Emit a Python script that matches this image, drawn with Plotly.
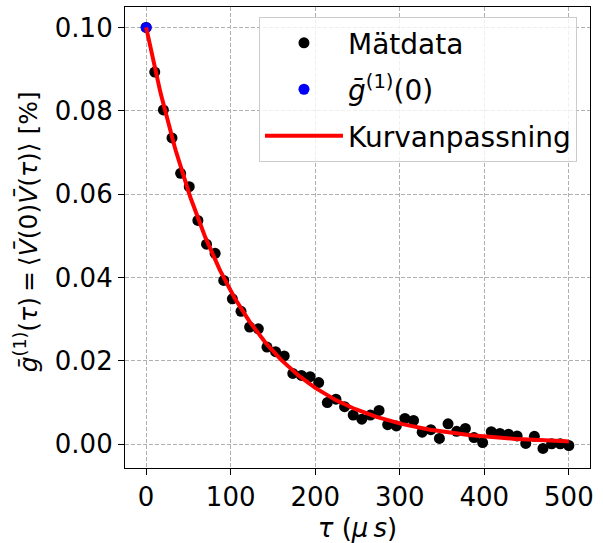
import numpy as np
import plotly.graph_objects as go

# Lag times (µs) and measured normalised correlation values (%)
tau_us = [0.0, 10.2, 20.4, 30.6, 40.8, 51.0, 61.2, 71.4, 81.6, 91.8,
          102.0, 112.2, 122.4, 132.7, 142.9, 153.1, 163.3, 173.5, 183.7, 193.9,
          204.1, 214.3, 224.5, 234.7, 244.9, 255.1, 265.3, 275.5, 285.7, 295.9,
          306.1, 316.3, 326.5, 336.7, 346.9, 357.1, 367.3, 377.6, 387.8, 398.0,
          408.2, 418.4, 428.6, 438.8, 449.0, 459.2, 469.4, 479.6, 489.8, 500.0]
g1_meas = [0.1000, 0.0893, 0.0802, 0.0735, 0.0650, 0.0618, 0.0537, 0.0480, 0.0458, 0.0393,
           0.0349, 0.0319, 0.0281, 0.0277, 0.0233, 0.0222, 0.0212, 0.0170, 0.0165, 0.0162,
           0.0148, 0.0100, 0.0108, 0.0090, 0.0070, 0.0060, 0.0070, 0.0081, 0.0047, 0.0044,
           0.0062, 0.0057, 0.0029, 0.0035, 0.0014, 0.0049, 0.0031, 0.0038, 0.0016, 0.0004,
           0.0030, 0.0026, 0.0024, 0.0020, 0.0002, 0.0019, -0.0010, 0.0001, 0.0001, -0.0003]

# Fitted exponential decay g(t) = A * exp(-t / T)
fit_amplitude = 0.100
fit_decay_us = 100.0

x_ticks = [0, 100, 200, 300, 400, 500]
y_ticks = [0.00, 0.02, 0.04, 0.06, 0.08, 0.10]

t_fit = np.linspace(min(tau_us), max(tau_us), 400)
g_fit = fit_amplitude * np.exp(-t_fit / fit_decay_us)

FONT = "DejaVu Sans"
FS = 26

fig = go.Figure()
fig.add_trace(go.Scatter(
    x=tau_us, y=g1_meas, mode="markers", name="Mätdata",
    marker=dict(color="black", size=11), legendgroup="a"))
fig.add_trace(go.Scatter(
    x=[tau_us[0]], y=[g1_meas[0]], mode="markers", name="<i>ḡ</i><sup>(1)</sup>(0)",
    marker=dict(color="blue", size=11), legendgroup="b"))
fig.add_trace(go.Scatter(
    x=t_fit, y=g_fit, mode="lines", name="Kurvanpassning",
    line=dict(color="red", width=4), legendgroup="c"))

axis_common = dict(
    showline=True, linecolor="black", linewidth=1.2, mirror=True,
    ticks="outside", ticklen=6, tickwidth=1.2, tickcolor="black",
    showgrid=True, gridcolor="#b0b0b0", gridwidth=1, griddash="4px,2px",
    zeroline=False, tickfont=dict(family=FONT, size=FS, color="black"),
)

fig.update_xaxes(
    range=[-25, 525], tickvals=x_ticks, ticktext=[str(v) for v in x_ticks],
    title=dict(text="<i>τ</i> (<i>μ</i>\u2009<i>s</i>)", font=dict(family=FONT, size=FS, color="black"),
               standoff=10),
    **axis_common)
fig.update_yaxes(
    range=[-0.0057, 0.1049], tickvals=y_ticks, ticktext=[f"{v:.2f}" for v in y_ticks],
    **axis_common)

# y-axis label placed as a rotated annotation left of the tick labels
fig.add_annotation(
    text="<i>ḡ</i><sup>(1)</sup>(<i>τ</i>)\u2009=\u2009⟨<i>V\u0304</i>(0)<i>V\u0304</i>(<i>τ</i>)⟩ [%]",
    xref="paper", yref="paper", x=-0.21, y=0.512,
    xanchor="center", yanchor="middle", textangle=-90, showarrow=False,
    font=dict(family=FONT, size=25, color="black"))

fig.update_layout(
    width=603, height=543,
    margin=dict(l=125, r=13, t=7, b=75, autoexpand=False),
    plot_bgcolor="white", paper_bgcolor="white",
    font=dict(family=FONT, size=FS, color="black"),
    legend=dict(
        x=0.972, y=0.978, xanchor="right", yanchor="top",
        bgcolor="rgba(255,255,255,0.8)", bordercolor="#cccccc", borderwidth=1,
        font=dict(family=FONT, size=28, color="black"),
        tracegroupgap=7, traceorder="grouped", itemwidth=78,
    ),
)

fig.write_html("out.html")
